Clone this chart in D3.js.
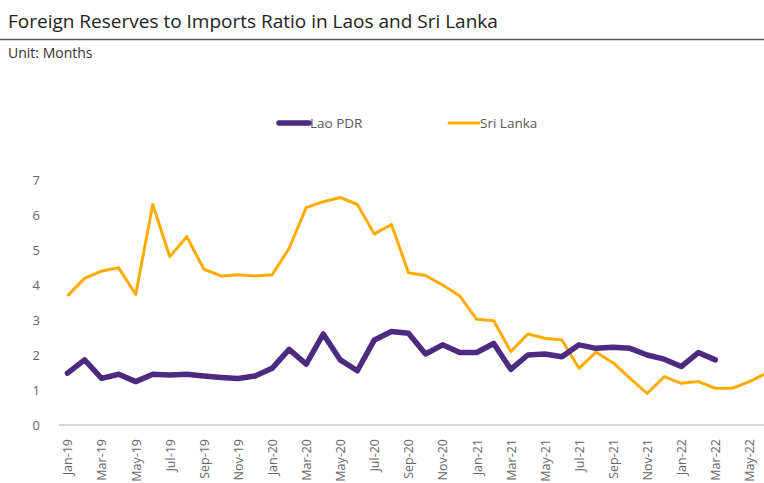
<!DOCTYPE html>
<html>
<head>
<meta charset="utf-8">
<script src="https://cdn.jsdelivr.net/npm/d3@7"></script>
<style>
  body { margin: 0; background: #fff; }
  svg { display: block; font-family: "Open Sans", "Noto Sans", sans-serif; }
</style>
</head>
<body>
<svg width="764" height="483"></svg>
<script>
// monthly categories Jan-19 .. Jun-22
const months = [
  "Jan-19","Feb-19","Mar-19","Apr-19","May-19","Jun-19","Jul-19","Aug-19","Sep-19","Oct-19","Nov-19","Dec-19",
  "Jan-20","Feb-20","Mar-20","Apr-20","May-20","Jun-20","Jul-20","Aug-20","Sep-20","Oct-20","Nov-20","Dec-20",
  "Jan-21","Feb-21","Mar-21","Apr-21","May-21","Jun-21","Jul-21","Aug-21","Sep-21","Oct-21","Nov-21","Dec-21",
  "Jan-22","Feb-22","Mar-22","Apr-22","May-22","Jun-22"
];
const laoValues = [
  1.48, 1.86, 1.33, 1.45, 1.24, 1.45, 1.43, 1.45, 1.40, 1.36, 1.33, 1.40,
  1.62, 2.16, 1.74, 2.60, 1.86, 1.55, 2.43, 2.67, 2.62, 2.03, 2.29, 2.07,
  2.07, 2.33, 1.59, 2.00, 2.03, 1.95, 2.29, 2.19, 2.22, 2.19, 2.00, 1.88,
  1.67, 2.07, 1.86
];
const sriLankaValues = [
  3.69, 4.19, 4.40, 4.49, 3.73, 6.30, 4.81, 5.38, 4.45, 4.26, 4.29, 4.26,
  4.29, 5.05, 6.21, 6.38, 6.50, 6.30, 5.46, 5.73, 4.35, 4.27, 4.00, 3.69,
  3.02, 2.98, 2.10, 2.60, 2.48, 2.43, 1.62, 2.08, 1.78, 1.33, 0.90, 1.38,
  1.19, 1.24, 1.05, 1.05, 1.24, 1.48
];
const yTicks = [0, 1, 2, 3, 4, 5, 6, 7];
const xTickLabels = months.filter((d, i) => i % 2 === 0);

const svg = d3.select("svg");
const width = +svg.attr("width");

const xScale = d3.scalePoint().domain(months).range([59, 775]).padding(0.5);
const yScale = d3.scaleLinear().domain([0, 7]).range([425, 180]);

// title block
svg.append("text")
  .attr("x", 8).attr("y", 28)
  .attr("font-size", 19).attr("fill", "#222")
  .text("Foreign Reserves to Imports Ratio in Laos and Sri Lanka");
svg.append("line")
  .attr("x1", 0).attr("x2", width).attr("y1", 39.5).attr("y2", 39.5)
  .attr("stroke", "#595959").attr("stroke-width", 1.5);
svg.append("text")
  .attr("x", 8).attr("y", 58)
  .attr("font-size", 14).attr("fill", "#333")
  .text("Unit: Months");

// baseline
svg.append("line")
  .attr("x1", 59).attr("x2", width)
  .attr("y1", yScale(0)).attr("y2", yScale(0))
  .attr("stroke", "#d9d9d9").attr("stroke-width", 2);

// y axis
const yAxisG = svg.append("g")
  .attr("transform", "translate(40,0)")
  .call(d3.axisLeft(yScale).tickValues(yTicks).tickSize(0).tickPadding(0).tickFormat(d3.format("d")));
yAxisG.select(".domain").remove();
yAxisG.selectAll("text")
  .attr("font-size", 13).attr("fill", "#666")
  .attr("font-family", "'Open Sans', 'Noto Sans', sans-serif");

// x axis
const xAxisG = svg.append("g")
  .attr("transform", `translate(0,${yScale(0)})`)
  .call(d3.axisBottom(xScale).tickValues(xTickLabels).tickSize(0));
xAxisG.select(".domain").remove();
xAxisG.selectAll("text")
  .attr("font-size", 12.5).attr("fill", "#666")
  .attr("font-family", "'Open Sans', 'Noto Sans', sans-serif")
  .attr("transform", "rotate(-90)")
  .attr("text-anchor", "end")
  .attr("dy", "0.35em")
  .attr("x", -14).attr("y", 0);

const line = d3.line()
  .x((d, i) => xScale(months[i]))
  .y((d) => yScale(d));

svg.append("path")
  .datum(sriLankaValues)
  .attr("fill", "none")
  .attr("stroke", "#ffab00")
  .attr("stroke-width", 3)
  .attr("stroke-linejoin", "round")
  .attr("d", line);

svg.append("path")
  .datum(laoValues)
  .attr("fill", "none")
  .attr("stroke", "#4b2a80")
  .attr("stroke-width", 5.5)
  .attr("stroke-linejoin", "round")
  .attr("stroke-linecap", "round")
  .attr("d", line);

// legend
const legend = [
  { name: "Lao PDR", color: "#4b2a80", w: 5.5, x: 279 },
  { name: "Sri Lanka", color: "#ffab00", w: 3, x: 449 }
];
const lg = svg.append("g").selectAll("g").data(legend).enter().append("g")
  .attr("transform", (d) => `translate(${d.x},123)`);
lg.append("line")
  .attr("x1", 0).attr("x2", 30)
  .attr("stroke", (d) => d.color)
  .attr("stroke-width", (d) => d.w)
  .attr("stroke-linecap", "round");
lg.append("text")
  .attr("x", 31).attr("dy", "0.35em")
  .attr("font-size", 13.5).attr("fill", "#595959")
  .text((d) => d.name);
</script>
</body>
</html>
